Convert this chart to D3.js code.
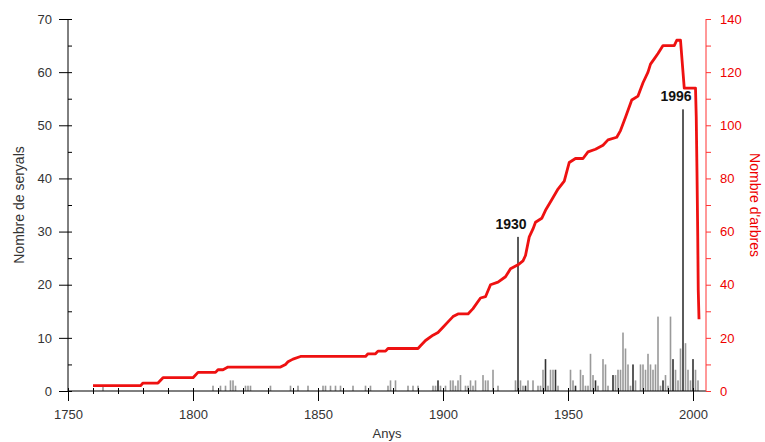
<!DOCTYPE html>
<html><head><meta charset="utf-8">
<script src="https://cdn.jsdelivr.net/npm/d3@7/dist/d3.min.js"></script>
<style>
body{margin:0;background:#fff;}
text{font-family:"Liberation Sans",Arial,sans-serif;}
</style></head>
<body><svg id="c" width="765" height="442"></svg>
<script>
// Nombre de seryals (bars, left axis)
const barYears = [1764,1808,1811,1813,1815,1816,1817,1821,1822,1823,1831,1839,1842,1846,1852,1853,1855,1857,1859,1864,1869,
 1871,1878,1879,1881,1886,1888,1890,1896,1897,1898,1899,1901,1903,1904,1905,1906,1907,1909,1910,1911,1912,1913,1916,1917,1918,1920,1922,
 1929,1930,1931,1932,1933,1934,1936,1938,1939,1940,1941,1942,1943,1944,1945,1946,1951,1952,1953,1955,1956,1957,1958,1959,1960,1961,1962,
 1964,1965,1966,1968,1969,1970,1971,1972,1973,1974,1975,1976,1977,1979,1980,1981,1982,1983,1984,1985,1986,1987,1988,1989,1990,1991,1992,
 1993,1994,1995,1996,1997,1998,1999,2000,2001,2002];
const barValues = [1,1,1,1,2,2,1,1,1,1,1,1,1,1,1,1,1,1,1,1,1,
 1,1,2,2,1,1,1,1,1,2,1,1,2,2,1,2,3,1,1,2,1,2,3,2,2,4,1,
 2,29,2,1,1,2,2,1,1,4,6,1,4,4,4,1,4,2,1,4,3,1,1,7,3,2,1,
 6,5,1,3,3,4,4,11,8,5,1,5,2,5,5,4,7,5,4,5,14,1,2,3,1,14,6,
 4,2,8,53,9,4,2,6,4,2];
const darkYears = [1889,1898,1930,1933,1941,1945,1953,1961,1968,1976,1988,1992,1996,2000];

// Nombre d'arbres (red line, right axis)
const treeYears = [1760,1779,1780,1786,1788,1800,1802,1809,1810,1812,1814,1835,1837,1838,1840,1843,1869,1870,1873,1874,1877,1878,
 1890,1891,1893,1896,1898,1900,1902,1904,1906,1910,1912,1915,1917,1919,1922,1925,1927,1930,1932,1933,1934.5,1936,1937,1939.5,
 1941,1943.5,1946,1948.5,1950.5,1953,1956,1958,1961,1964,1966,1969.5,1971,1973,1975.5,1978,1980,1982,1983,1984.5,1986,1988,
 1992.5,1993.5,1995,1996.5,2001,2001.3,2001.6,2001.9,2002.1,2002.4];
const treeValues = [2,2,3,3,5,5,7,7,8,8,9,9,10,11,12,13,13,14,14,15,15,16,
 16,17,19,21,22,24,26,28,29,29,31,35,35.5,40,41,43,46,47.5,49,51,58,61,63.5,65,
 68,72,76,79,86,87.5,87.5,90,91,92.5,94.5,95.5,98,103,109.5,111,116,120,123,125,127,130,
 130,132,132,114,114,103,82,58,38,27];

const xTicks = [1750,1800,1850,1900,1950,2000];
const leftTicks = [0,10,20,30,40,50,60,70];
const rightTicks = [0,20,40,60,80,100,120,140];
const annotations = [{year:1930,label:"1930"},{year:1996,label:"1996"}];

const svg = d3.select("#c");
const x = d3.scaleLinear().domain([1750,2005]).range([68,705.5]);
const yL = d3.scaleLinear().domain([0,70]).range([391,19]);
const yR = d3.scaleLinear().domain([0,140]).range([391,19]);

// bars
const bars = barYears.map((yr,i)=>({yr, v:barValues[i]}));
svg.append("g").selectAll("rect").data(bars).join("rect")
  .attr("x", d=>x(d.yr)-0.8)
  .attr("width", 1.6)
  .attr("y", d=>yL(d.v))
  .attr("height", d=>yL(0)-yL(d.v))
  .attr("fill", d=>darkYears.includes(d.yr)?"#333":"#9a9a9a");

// red line
const pts = treeYears.map((yr,i)=>[yr,treeValues[i]]);
svg.append("path").datum(pts)
  .attr("fill","none").attr("stroke","#ee1111").attr("stroke-width",2.8)
  .attr("stroke-linejoin","round")
  .attr("d", d3.line().x(d=>x(d[0])).y(d=>yR(d[1])));

// annotations
svg.append("g").selectAll("text").data(annotations).join("text")
  .attr("x", d=>x(d.year)-7)
  .attr("y", d=>yL(barValues[barYears.indexOf(d.year)])-8)
  .attr("text-anchor","middle")
  .attr("font-size",14).attr("font-weight","bold").attr("fill","#111")
  .text(d=>d.label);

// left axis
const gL = svg.append("g").attr("transform","translate(68,0)")
  .call(d3.axisLeft(yL).tickValues(leftTicks).tickSize(9).tickPadding(7).tickFormat(d3.format("d")));
gL.selectAll(".tick line").attr("x1",4);
gL.select(".domain").attr("d","M0,391V19");
gL.selectAll("text").attr("font-size",13).attr("fill","#333").attr("font-family","Liberation Sans, Arial");
svg.append("g").attr("transform","translate(68,0)")
  .call(d3.axisRight(yL).tickValues(d3.range(5,70,10)).tickSize(4).tickFormat(""))
  .call(g=>g.select(".domain").remove());

// bottom axis
const gB = svg.append("g").attr("transform","translate(0,391)")
  .call(d3.axisBottom(x).tickValues(xTicks).tickSize(10).tickPadding(9).tickFormat(d3.format("d")));
gB.selectAll(".tick line").attr("y1",-3);
gB.select(".domain").attr("d","M68,0H706");
gB.selectAll("text").attr("font-size",13).attr("fill","#333").attr("font-family","Liberation Sans, Arial");
const gBm = svg.append("g").attr("transform","translate(0,391)")
  .call(d3.axisBottom(x).tickValues(d3.range(1760,2005,10).filter(v=>v%50!==0)).tickSize(3).tickFormat(""));
gBm.selectAll(".tick line").attr("y1",-3);
gBm.select(".domain").remove();

// right axis
const gR = svg.append("g").attr("transform","translate(706,0)")
  .call(d3.axisRight(yR).tickValues(rightTicks).tickSize(5).tickPadding(9).tickFormat(d3.format("d")));
gR.select(".domain").attr("d","M0,391V19").attr("stroke","#f33");
gR.selectAll(".tick line").attr("stroke","#f33");
gR.selectAll("text").attr("font-size",13).attr("fill","#e00").attr("font-family","Liberation Sans, Arial");
svg.append("g").attr("transform","translate(706,0)")
  .call(d3.axisRight(yR).tickValues(d3.range(10,140,20)).tickSize(5).tickFormat(""))
  .call(g=>g.select(".domain").remove())
  .selectAll(".tick line").attr("stroke","#f33");

// titles
svg.append("text").attr("x",387).attr("y",438).attr("text-anchor","middle")
  .attr("font-size",13).attr("fill","#333").text("Anys");
svg.append("text").attr("transform","translate(24,205) rotate(-90)").attr("text-anchor","middle")
  .attr("font-size",14).attr("fill","#333").text("Nombre de seryals");
svg.append("text").attr("transform","translate(750,205) rotate(90)").attr("text-anchor","middle")
  .attr("font-size",14).attr("fill","#e00").text("Nombre d'arbres");
</script></body></html>
